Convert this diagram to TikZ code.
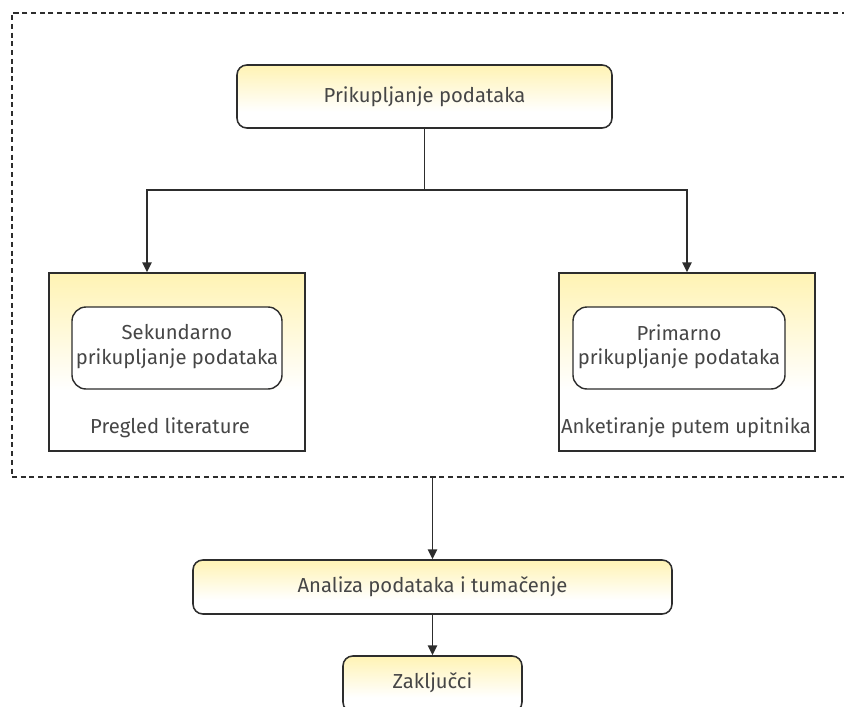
\documentclass[tikz,border=0pt]{standalone}
\usepackage{fontspec}
\setmainfont{Fira Sans}
\usetikzlibrary{fit,arrows.meta,calc}
\definecolor{boxyellow}{RGB}{255,243,180}
\definecolor{linegray}{RGB}{45,45,45}
\definecolor{textgray}{RGB}{70,70,70}
\pgfdeclareverticalshading{fadeout}{100bp}{color(0bp)=(white); color(25bp)=(white); color(42bp)=(white); color(75bp)=(boxyellow); color(100bp)=(boxyellow)}
\pgfdeclareverticalshading{fadebox}{100bp}{color(0bp)=(white); color(25bp)=(white); color(38bp)=(white); color(75bp)=(boxyellow); color(100bp)=(boxyellow)}
\tikzset{
  every node/.style={text=textgray,font=\fontsize{14.4}{17.5}\selectfont},
  frame/.style={draw=linegray,line width=0.8pt,dash pattern=on 3.6pt off 2.6pt,inner sep=0pt},
  roundbox/.style={draw=linegray,line width=1.1pt,rounded corners=7pt,inner sep=0pt,
    shading=fadebox},
  outerbox/.style={draw=linegray,line width=1pt,inner sep=0pt,shading=fadeout},
  innerbox/.style={draw=linegray,line width=1pt,rounded corners=10pt,fill=white,inner sep=0pt,
    align=center},
  arr/.style={draw=linegray,line width=1.3pt,-{Triangle[length=7pt,width=6.5pt]}},
  conn/.style={draw=linegray,line width=1.3pt},
}
\begin{document}
\begin{tikzpicture}[x=0.025cm,y=-0.025cm]
\useasboundingbox (0,0) rectangle (844,706);
\clip (0,0) rectangle (844,706);
% dashed frame
\node[frame,fit={(12,13) (860,477)}] (frame) {};
% top box
\node[roundbox,fit={(237,65) (612,128)}] (top) {};
\node at (top.center) (toptext) {Prikupljanje podataka};
% left branch
\node[outerbox,fit={(49,273) (305,451)}] (left) {};
\node[innerbox,fit={(72,307) (282,389)}] (lin) {};
\node[align=center] (lintext) at ([yshift=1]lin.center) {Sekundarno\\prikupljanje podataka};
\node (ltext) at (170,428) {Pregled literature};
% right branch
\node[outerbox,fit={(559,273) (815,451)}] (right) {};
\node[innerbox,fit={(573,307) (785,389)}] (rin) {};
\node[align=center] (rintext) at ([yshift=1]rin.center) {Primarno\\prikupljanje podataka};
\node (rtext) at (686,428) {Anketiranje putem upitnika};
% analysis
\node[roundbox,fit={(193,560) (672,614)}] (ana) {};
\node at (ana.center) (anatext) {Analiza podataka i tumačenje};
% conclusions
\node[roundbox,fit={(343,656) (522,712)}] (zak) {};
\node at (ana.center |- 0,683) (zaktext) {Zaključci};
% connectors
\coordinate (split) at (top.south |- 0,190);
\coordinate (lt) at (147,190);
\coordinate (rt) at (687,190);
\draw[conn] (top.south) -- (split);
\draw[arr] (split) -- (lt) -- (lt |- left.north);
\draw[arr] (split) -- (rt) -- (rt |- right.north);
\draw[arr] (frame.south -| ana.north) -- (ana.north);
\draw[arr] (ana.south) -- (zak.north -| ana.south);
\end{tikzpicture}
\end{document}
